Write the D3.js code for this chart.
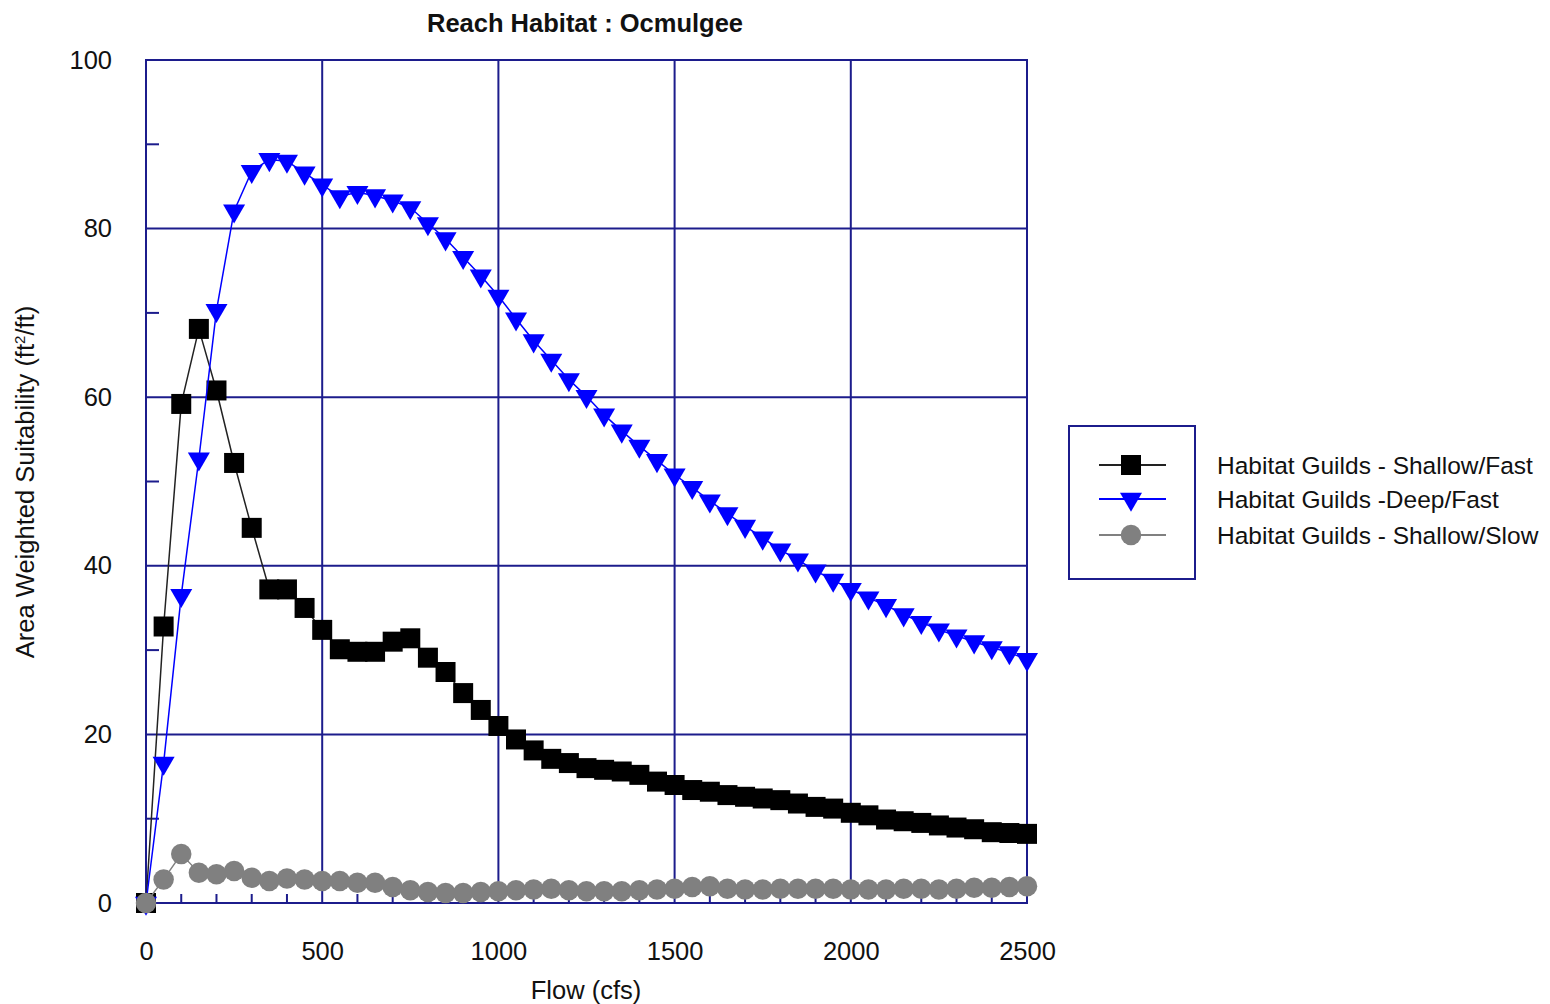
<!DOCTYPE html>
<html lang="en">
<head>
<meta charset="utf-8">
<title>Reach Habitat : Ocmulgee</title>
<style>
  body { margin: 0; background: #fff; }
  svg text { font-family: "Liberation Sans", Arial, sans-serif; fill: #111; }
</style>
</head>
<body>
<script src="https://cdn.jsdelivr.net/npm/d3@7/dist/d3.min.js"></script>
<script>
    // flow values every 50 cfs
    var flows = d3.range(0, 2501, 50);

    var shallowFast = [0, 32.8, 59.2, 68.1, 60.8, 52.2, 44.5, 37.2, 37.2, 35.0,
        32.4, 30.1, 29.8, 29.8, 31.0, 31.4, 29.1, 27.4, 24.9, 22.9,
        21.0, 19.4, 18.1, 17.1, 16.6, 16.0, 15.8, 15.6, 15.2, 14.4,
        14.0, 13.4, 13.2, 12.8, 12.6, 12.4, 12.2, 11.8, 11.4, 11.2,
        10.7, 10.4, 9.9, 9.7, 9.5, 9.2, 8.95, 8.75, 8.4, 8.3, 8.2];

    var deepFast = [0, 16.6, 36.5, 52.7, 70.3, 82.1, 86.8, 88.2, 88.0, 86.6,
        85.2, 83.8, 84.3, 83.9, 83.3, 82.5, 80.6, 78.8, 76.6, 74.4,
        72.0, 69.3, 66.7, 64.4, 62.1, 60.1, 57.9, 56.0, 54.2, 52.5,
        50.8, 49.3, 47.7, 46.2, 44.7, 43.3, 41.9, 40.7, 39.4, 38.3,
        37.2, 36.2, 35.3, 34.2, 33.3, 32.4, 31.7, 31.0, 30.3, 29.7, 28.9];

    var shallowSlow = [0, 2.8, 5.8, 3.6, 3.4, 3.8, 3.0, 2.6, 2.9, 2.8,
        2.6, 2.6, 2.4, 2.4, 1.9, 1.5, 1.3, 1.2, 1.2, 1.3,
        1.4, 1.5, 1.6, 1.7, 1.5, 1.4, 1.4, 1.4, 1.5, 1.6,
        1.7, 1.9, 2.0, 1.7, 1.6, 1.6, 1.7, 1.7, 1.7, 1.7,
        1.6, 1.6, 1.6, 1.7, 1.7, 1.6, 1.7, 1.8, 1.8, 1.9, 2.0];

    var seriesNames = ["Habitat Guilds - Shallow/Fast", "Habitat Guilds -Deep/Fast", "Habitat Guilds - Shallow/Slow"];
    var xTicks = [0, 500, 1000, 1500, 2000, 2500];
    var yTicks = [0, 20, 40, 60, 80, 100];

    var w = 1550, h = 1004;
    var padL = 146, padR = 1027, padT = 60, padB = 903;
    var navy = "#1c1c8c";
    var fs = "25.5px";

    var svg = d3.select("body").append("svg")
        .attr("width", w)
        .attr("height", h);

    var x = d3.scaleLinear().domain([0, 2500]).range([padL, padR]);
    var y = d3.scaleLinear().domain([0, 100]).range([padB, padT]);

    // grid lines
    svg.append("g").selectAll("line").data(xTicks.slice(1, -1)).enter().append("line")
        .attr("x1", function(d) { return x(d); }).attr("x2", function(d) { return x(d); })
        .attr("y1", padT).attr("y2", padB)
        .attr("stroke", navy).attr("stroke-width", 2);
    svg.append("g").selectAll("line").data(yTicks.slice(1, -1)).enter().append("line")
        .attr("y1", function(d) { return y(d); }).attr("y2", function(d) { return y(d); })
        .attr("x1", padL).attr("x2", padR)
        .attr("stroke", navy).attr("stroke-width", 2);

    // minor ticks, inside the frame
    svg.append("g").selectAll("line").data(d3.range(10, 100, 20)).enter().append("line")
        .attr("y1", function(d) { return y(d); }).attr("y2", function(d) { return y(d); })
        .attr("x1", padL).attr("x2", padL + 13)
        .attr("stroke", navy).attr("stroke-width", 2);
    svg.append("g").selectAll("line").data(d3.range(100, 2500, 100).filter(function(d) { return d % 500 != 0; })).enter().append("line")
        .attr("x1", function(d) { return x(d); }).attr("x2", function(d) { return x(d); })
        .attr("y1", padB).attr("y2", padB - 9)
        .attr("stroke", navy).attr("stroke-width", 2);

    // frame
    svg.append("rect")
        .attr("x", padL).attr("y", padT)
        .attr("width", padR - padL).attr("height", padB - padT)
        .attr("fill", "none").attr("stroke", navy).attr("stroke-width", 2);

    // axes (labels only)
    var xAxis = svg.append("g").attr("transform", "translate(0," + (padB + 39) + ")")
        .call(d3.axisBottom(x).tickValues(xTicks).tickSize(0).tickPadding(0).tickFormat(d3.format("d")));
    var yAxis = svg.append("g").attr("transform", "translate(" + (padL - 34) + ",0)")
        .call(d3.axisLeft(y).tickValues(yTicks).tickSize(0).tickPadding(0));
    [xAxis, yAxis].forEach(function(a) {
        a.select(".domain").remove();
        a.selectAll("text").style("font-size", fs).style("font-family", "Liberation Sans, Arial, sans-serif").attr("fill", "#111");
    });
    xAxis.selectAll("text").attr("dy", "0.71em");

    // titles
    svg.append("text").attr("x", 585).attr("y", 32).attr("text-anchor", "middle")
        .style("font-size", fs).style("font-weight", "bold").text("Reach Habitat : Ocmulgee");
    svg.append("text").attr("x", 586).attr("y", 999).attr("text-anchor", "middle")
        .style("font-size", fs).text("Flow (cfs)");
    var yl = svg.append("text").attr("transform", "translate(34,482) rotate(-90)").attr("text-anchor", "middle")
        .style("font-size", fs);
    yl.append("tspan").text("Area Weighted Suitability (ft");
    yl.append("tspan").attr("dy", -9).style("font-size", "15px").text("2");
    yl.append("tspan").attr("dy", 9).text("/ft)");

    var line = d3.line()
        .x(function(d, i) { return x(flows[i]); })
        .y(function(d) { return y(d); });

    var series = [
        { vals: shallowFast, color: "#000000", lineColor: "#222", symbol: d3.symbolSquare, size: 400 },
        { vals: deepFast, color: "#0000ff", lineColor: "#0000ff", symbol: d3.symbolTriangle, size: 210 },
        { vals: shallowSlow, color: "#808080", lineColor: "#808080", symbol: d3.symbolCircle, size: 330 }
    ];

    series.forEach(function(s) {
        svg.append("path")
            .attr("d", line(s.vals))
            .attr("fill", "none")
            .attr("stroke", s.lineColor)
            .attr("stroke-width", 1.5);
        svg.append("g").selectAll("path").data(s.vals).enter().append("path")
            .attr("d", d3.symbol().type(s.symbol).size(s.size))
            .attr("transform", function(d, i) {
                var r = s.symbol === d3.symbolTriangle ? " rotate(180)" : "";
                return "translate(" + x(flows[i]) + "," + y(d) + ")" + r;
            })
            .attr("fill", s.color);
    });

    // legend
    svg.append("rect").attr("x", 1069).attr("y", 426).attr("width", 126).attr("height", 153)
        .attr("fill", "none").attr("stroke", navy).attr("stroke-width", 2);
    var legY = [465, 499, 535];
    series.forEach(function(s, i) {
        svg.append("line").attr("x1", 1099).attr("x2", 1166)
            .attr("y1", legY[i]).attr("y2", legY[i])
            .attr("stroke", s.lineColor).attr("stroke-width", 2);
        svg.append("path")
            .attr("d", d3.symbol().type(s.symbol).size(s.size))
            .attr("transform", "translate(1131," + legY[i] + ")" + (s.symbol === d3.symbolTriangle ? " rotate(180)" : ""))
            .attr("fill", s.color);
        svg.append("text").attr("x", 1217).attr("y", legY[i] + 9)
            .style("font-size", "24.5px").text(seriesNames[i]);
    });
</script>
</body>
</html>
